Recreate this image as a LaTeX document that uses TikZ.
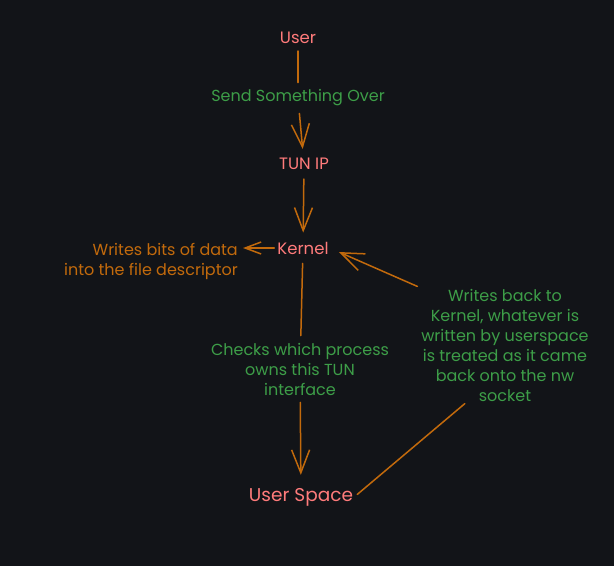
\documentclass[tikz,border=0pt]{standalone}
\usepackage{fontspec}
\setmainfont{Poppins}
\usetikzlibrary{arrows.meta}

\definecolor{bgdark}{HTML}{121418}
\definecolor{penorange}{HTML}{C26A0C}
\definecolor{penpink}{HTML}{FF7B7B}
\definecolor{pengreen}{HTML}{3D9E48}

\tikzset{
    state/.style={text=penpink, font=\fontsize{16.5}{19}\selectfont, inner sep=1pt},
    bigstate/.style={state, font=\fontsize{18.5}{21}\selectfont},
    note/.style={text=pengreen, font=\fontsize{16}{20}\selectfont, align=center, inner sep=1pt},
    link/.style={draw=penorange, line width=1.5pt, line cap=round},
    arr/.style={link, -{Straight Barb[length=23pt, width=18pt]}},
    shortarr/.style={link, -{Straight Barb[length=16pt, width=12pt]}}
}

\begin{document}
\begin{tikzpicture}[x=1pt, y=-1pt]
    \useasboundingbox[fill=bgdark] (0,0) rectangle (614,566);

    \node[state] (user) at (298,38) {User};
    \node[note] (send) at (298,98) {Send Something Over};
    \node[state] (tun) at (304,164) {TUN IP};
    \node[state] (kernel) at (303,248) {Kernel};
    \node[note, text=penorange, align=right, anchor=east] (fd) at (239,261) {Writes bits of data\\into the file descriptor};
    \node[note] (check) at (300,369) {Checks which process\\owns this TUN\\interface};
    \node[bigstate] (space) at (301,497) {User Space};
    \node[note] (back) at (505,345) {Writes back to\\Kernel, whatever is\\written by userspace\\is treated as it came\\back onto the nw\\socket};

    % down the stack
    \draw[link, shorten <=6pt, shorten >=6pt] (user) -- (send);
    \draw[arr, shorten <=6pt, shorten >=8pt] (send) -- (tun);
    \draw[arr, shorten <=8pt, shorten >=8pt] (tun) -- (kernel);
    \draw[shortarr, shorten <=2pt, shorten >=4pt] (kernel.west) -- (kernel.west -| fd.east);
    \draw[link, shorten <=8pt, shorten >=6pt] (kernel) -- (check);
    \draw[arr, shorten <=6pt, shorten >=12pt] (check) -- (space);

    % back up to the kernel
    \draw[link, shorten <=4pt, shorten >=2pt] (space.east) -- (back.236);
    \draw[arr, shorten <=3pt, shorten >=10pt] (back.north west) -- (kernel.east);
\end{tikzpicture}
\end{document}
